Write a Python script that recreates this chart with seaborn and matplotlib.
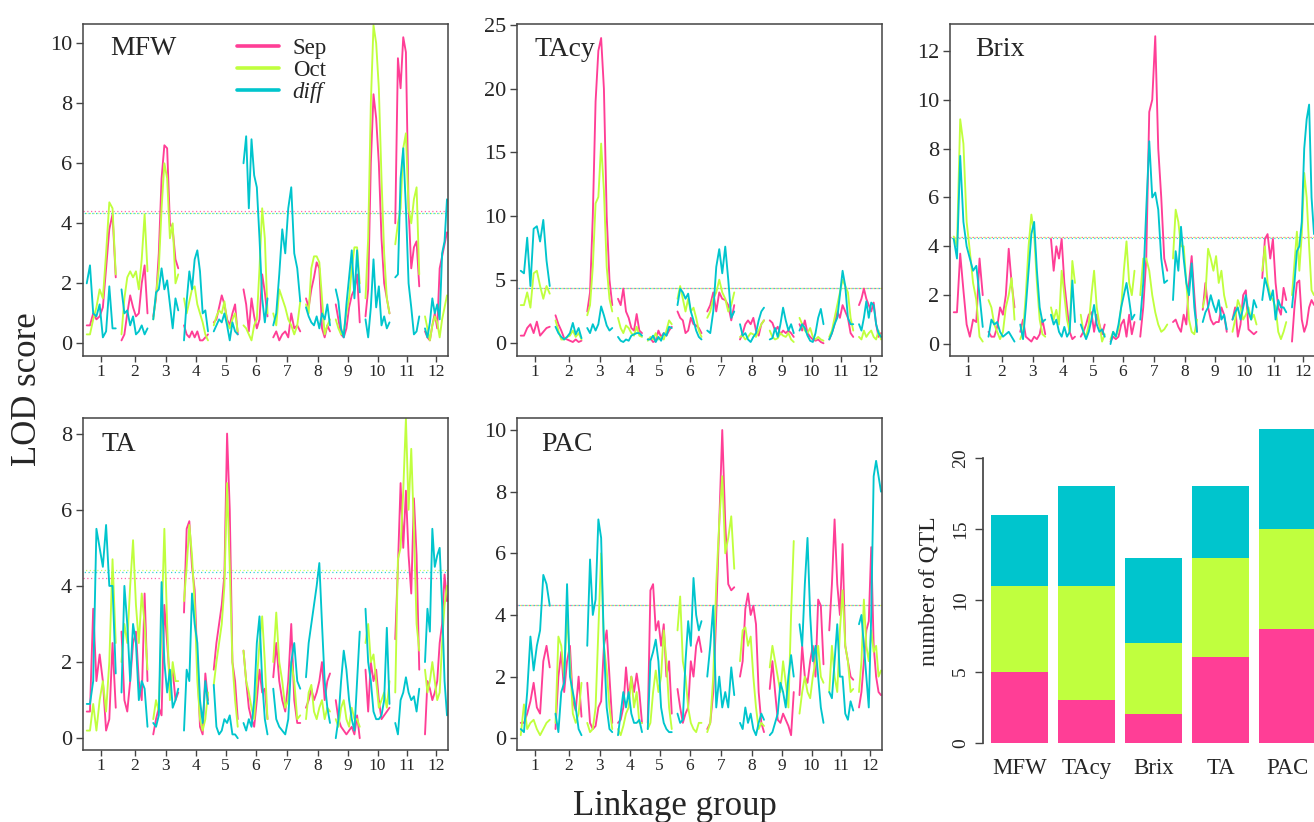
import numpy as np
import pandas as pd
import matplotlib
matplotlib.use("Agg")
import matplotlib.pyplot as plt
from matplotlib.lines import Line2D
import seaborn as sns

# linkage groups (cM) and series
lg_names = [str(i) for i in range(1, 13)]
lg_lengths = [116, 104, 100, 96, 96, 96, 108, 96, 96, 96, 96, 88]
lg_gap = 23
months = ["Sep", "Oct", "diff"]
month_colors = ["#FF3E96", "#C0FF3E", "#00C5CD"]

# LOD profiles, 10 positions per linkage group (LG1 ... LG12)
mfw_sep = [0.6, 0.6, 1.0, 0.8, 0.9, 1.2, 2.5, 3.8, 4.3, 2.2,
           0.1, 0.3, 1.0, 1.6, 1.2, 0.9, 1.0, 2.0, 2.6, 1.0,
           0.9, 1.5, 3.0, 5.5, 6.6, 6.5, 4.0, 3.8, 2.8, 2.5,
           0.6, 0.3, 0.2, 0.4, 0.2, 0.4, 0.1, 0.1, 0.2, 0.3,
           0.7, 0.8, 1.2, 1.6, 1.3, 0.8, 0.6, 1.0, 1.3, 0.3,
           1.8, 1.3, 0.4, 1.5, 0.9, 0.5, 0.8, 2.3, 1.7, 0.9,
           0.2, 0.4, 0.1, 0.3, 0.4, 0.2, 1.0, 0.5, 0.6, 0.4,
           1.5, 1.2, 1.8, 2.2, 2.7, 2.5, 0.5, 0.2, 0.6, 0.4,
           1.3, 0.8, 0.3, 0.2, 0.5, 1.2, 1.6, 1.8, 2.3, 0.7,
           0.9, 1.8, 6.0, 8.3, 7.5, 6.0, 3.5, 2.0, 1.5, 1.0,
           4.0, 9.5, 8.5, 10.2, 9.7, 4.5, 2.5, 3.2, 3.4, 1.9,
           0.4, 0.2, 0.1, 0.6, 1.0, 0.5, 2.5, 2.9, 3.3, 3.7]
mfw_oct = [0.3, 0.3, 0.8, 1.2, 1.8, 1.5, 3.0, 4.7, 4.5, 2.3,
           0.3, 1.5, 2.2, 2.4, 2.2, 2.4, 1.8, 2.8, 4.3, 2.4,
           0.8, 1.6, 2.5, 4.5, 6.0, 5.5, 3.5, 4.0, 2.0, 2.3,
           1.5, 1.0, 1.4, 1.8, 1.9, 1.3, 1.0, 0.7, 0.3, 0.1,
           0.6, 0.9, 1.1, 1.0, 1.4, 0.7, 0.5, 0.8, 1.0, 0.4,
           0.6, 0.5, 0.3, 0.1, 0.6, 0.8, 2.5, 4.5, 3.5, 1.0,
           1.0, 0.6, 1.8, 1.5, 1.2, 0.8, 0.6, 0.3, 0.6, 1.4,
           1.3, 1.0, 2.5, 2.9, 2.9, 2.7, 1.5, 0.3, 0.6, 0.8,
           0.8, 0.5, 0.3, 0.4, 1.0, 1.5, 2.5, 3.2, 3.2, 2.0,
           1.5, 3.5, 8.0, 10.6, 10.0, 8.5, 5.5, 3.0, 1.5, 1.0,
           3.3, 4.0, 4.5, 6.5, 7.0, 4.5, 4.0, 4.8, 5.2, 2.3,
           0.9, 0.5, 0.1, 0.6, 0.9, 0.7, 0.2, 0.8, 1.2, 1.6]
mfw_diff = [2.0, 2.6, 1.0, 0.9, 1.3, 0.2, 0.4, 1.9, 0.5, 0.5,
            1.8, 1.0, 1.1, 0.6, 0.9, 0.3, 0.4, 0.6, 0.3, 0.5,
            0.8, 1.7, 1.8, 2.5, 1.8, 2.1, 1.3, 0.5, 1.5, 1.1,
            0.1, 1.4, 2.4, 1.8, 2.8, 3.1, 2.4, 1.0, 1.1, 0.4,
            0.4, 0.6, 0.8, 0.7, 1.0, 0.6, 0.1, 0.7, 0.4, 0.3,
            6.0, 6.9, 4.5, 6.8, 5.6, 5.2, 3.5, 1.5, 0.7, 1.5,
            0.6, 1.0, 2.3, 3.8, 3.0, 4.5, 5.2, 3.0, 2.5, 1.4,
            1.2, 0.9, 0.7, 0.6, 0.9, 0.5, 1.0, 0.8, 1.3, 0.6,
            1.8, 1.4, 0.5, 0.2, 1.3, 2.2, 3.1, 1.5, 3.1, 1.7,
            0.8, 0.2, 1.2, 2.8, 1.2, 1.9, 0.6, 0.9, 0.5, 0.7,
            2.2, 2.3, 5.5, 6.5, 4.5, 2.0, 1.2, 0.3, 0.4, 0.9,
            0.5, 0.2, 0.7, 1.5, 1.0, 1.3, 0.8, 3.0, 3.4, 4.8]

tacy_sep = [0.6, 0.6, 1.2, 1.5, 0.8, 1.7, 0.6, 0.9, 1.2, 1.3,
            2.2, 1.5, 1.0, 0.4, 0.3, 0.2, 0.1, 0.3, 0.1, 0.2,
            2.5, 4.0, 10.0, 19.0, 23.0, 24.0, 20.0, 10.0, 5.0, 3.0,
            3.5, 3.0, 4.3, 2.5, 2.0, 1.2, 1.0, 2.3, 1.0, 0.8,
            0.3, 0.4, 0.1, 0.2, 1.0, 0.5, 0.8, 0.6, 1.0, 1.3,
            2.5, 2.0, 1.8, 0.8, 1.0, 2.0, 1.5, 1.4, 1.2, 0.8,
            2.5, 3.0, 4.0, 2.5, 4.0, 3.5, 3.4, 3.0, 1.8, 3.0,
            0.3, 0.8, 1.5, 1.8, 1.5, 2.0, 1.0, 0.6, 1.5, 1.8,
            1.8, 1.6, 1.0, 1.3, 0.7, 1.0, 0.8, 1.0, 0.8, 0.5,
            1.5, 1.0, 1.8, 0.8, 0.5, 0.3, 0.2, 0.3, 0.1, 0.0,
            0.3, 0.8, 1.5, 2.5, 2.0, 3.0, 2.5, 2.0, 0.8, 0.5,
            3.0, 3.5, 4.3, 3.5, 3.0, 2.5, 3.2, 1.5, 0.5, 0.8]
tacy_oct = [3.0, 3.0, 4.0, 2.8, 5.5, 5.7, 4.5, 3.5, 4.5, 3.9,
            1.8, 1.0, 0.3, 0.3, 0.5, 0.6, 1.0, 0.5, 0.8, 0.3,
            2.2, 3.0, 6.0, 11.0, 11.5, 15.7, 12.0, 6.0, 3.5, 2.5,
            2.0, 1.2, 0.8, 1.4, 1.2, 0.8, 0.6, 1.3, 0.6, 0.5,
            0.2, 0.5, 0.3, 0.8, 0.3, 0.5, 0.3, 1.0, 1.8, 1.5,
            3.5, 4.5, 3.5, 2.5, 3.5, 2.5, 2.8, 2.0, 1.0, 0.5,
            2.0, 2.5, 3.5, 4.0, 5.0, 4.0, 3.5, 2.5, 3.0, 4.0,
            0.5, 0.6, 0.3, 0.5, 0.8, 0.7, 0.5, 1.0, 1.5, 1.8,
            1.0, 0.5, 0.3, 0.4, 0.8, 0.6, 0.5, 0.8, 0.3, 0.1,
            2.0, 1.5, 1.0, 0.8, 1.2, 0.5, 0.3, 0.5, 0.3, 0.2,
            0.5, 1.0, 2.0, 3.0, 4.0, 5.0, 4.5, 4.0, 2.0, 1.0,
            0.5, 0.3, 1.0, 0.5, 0.8, 1.0, 0.5, 0.3, 1.0, 0.3]
tacy_diff = [5.7, 5.5, 8.3, 4.5, 9.0, 9.2, 8.0, 9.7, 6.5, 4.5,
             1.3, 0.8, 0.5, 0.3, 0.5, 0.8, 1.6, 0.7, 1.2, 0.4,
             1.2, 0.8, 1.5, 1.0, 1.5, 2.9, 2.2, 1.4, 1.0, 1.2,
             0.5, 0.2, 0.1, 0.3, 0.2, 0.6, 0.7, 0.8, 0.8, 0.6,
             0.3, 0.3, 0.6, 0.1, 0.5, 0.2, 0.8, 0.6, 1.3, 1.2,
             3.0, 4.3, 4.0, 3.5, 3.9, 2.5, 1.8, 1.0, 0.5, 0.3,
             1.0, 0.8, 2.5, 6.0, 7.4, 5.5, 7.6, 5.0, 2.0, 2.5,
             1.5, 0.6, 0.8, 0.3, 0.1, 0.5, 0.8, 1.8, 2.5, 2.8,
             0.3, 0.4, 1.2, 0.5, 1.5, 2.8, 1.8, 1.0, 1.5, 0.8,
             1.0, 1.5, 1.2, 0.6, 0.2, 0.1, 0.8, 2.0, 2.7, 1.5,
             0.3, 0.8, 1.5, 2.0, 3.8, 5.7, 4.5, 2.0, 1.5, 1.5,
             1.5, 1.0, 2.0, 3.3, 2.0, 3.2, 3.0, 1.5, 0.8, 0.5]

brix_sep = [1.3, 1.3, 3.7, 2.2, 0.8, 0.3, 1.0, 0.9, 3.5, 2.0,
            0.5, 0.3, 0.3, 0.7, 1.5, 1.2, 2.0, 3.9, 2.5, 1.5,
            0.5, 1.0, 0.3, 0.2, 0.1, 0.3, 0.2, 0.4, 1.0, 0.4,
            4.3, 3.0, 4.0, 3.5, 4.3, 2.5, 1.5, 0.5, 0.2, 0.3,
            0.3, 0.5, 0.8, 1.2, 1.3, 0.5, 1.2, 0.8, 0.4, 0.8,
            0.1, 0.3, 0.2, 0.3, 0.8, 1.0, 0.3, 1.2, 0.4, 0.9,
            0.3, 1.5, 3.5, 9.5, 10.0, 12.6, 8.0, 6.0, 3.5, 3.0,
            0.9, 1.0, 0.7, 0.5, 1.2, 0.8, 2.5, 3.6, 2.0, 0.5,
            1.4, 2.5, 1.5, 1.0, 0.8, 0.9, 0.9, 1.5, 1.2, 0.5,
            1.0, 1.5, 0.3, 0.8, 2.0, 2.2, 0.6, 0.5, 0.4, 0.5,
            2.7, 4.3, 4.5, 3.5, 4.3, 2.5, 1.5, 1.2, 2.3, 1.8,
            0.1, 1.5, 2.5, 2.6, 1.0, 0.5, 0.8, 1.5, 1.8, 1.6]
brix_oct = [4.4, 4.0, 9.2, 8.2, 5.0, 3.8, 2.5, 1.8, 0.3, 0.1,
            1.8, 1.5, 0.8, 0.5, 0.2, 0.5, 1.5, 2.0, 2.7, 1.0,
            0.2, 0.5, 2.0, 4.0, 5.3, 4.5, 2.5, 1.0, 0.4, 0.3,
            1.5, 1.0, 1.4, 0.8, 3.0, 2.0, 1.0, 0.5, 3.4, 2.5,
            1.2, 0.5, 0.3, 0.8, 2.0, 3.0, 1.5, 0.8, 0.1, 0.4,
            0.2, 0.5, 0.3, 0.6, 1.5, 3.0, 4.2, 2.5, 2.0, 3.0,
            2.0, 3.5, 3.5, 3.0, 2.0, 1.3, 0.8, 0.5, 0.6, 0.8,
            3.5, 5.5, 5.0, 4.0, 4.0, 2.5, 1.0, 0.5, 0.4, 1.0,
            1.5, 2.0, 3.9, 3.5, 3.0, 3.6, 2.5, 3.0, 2.0, 1.5,
            0.5, 1.0, 1.8, 1.5, 1.0, 1.2, 1.5, 1.0, 1.2, 0.8,
            3.0, 4.0, 2.5, 2.0, 1.8, 1.5, 0.5, 0.2, 0.5, 0.9,
            2.0, 3.3, 4.6, 3.0, 4.5, 7.0, 6.0, 4.0, 2.2, 2.0]
brix_diff = [4.3, 3.5, 7.7, 5.0, 4.0, 3.5, 3.0, 3.2, 2.0, 0.7,
             0.3, 1.0, 0.8, 0.9, 0.5, 0.3, 0.4, 0.5, 0.3, 0.1,
             0.8, 0.2, 1.5, 3.0, 4.5, 5.0, 3.0, 1.5, 0.9, 1.0,
             1.2, 0.8, 1.0, 0.5, 0.3, 0.7, 0.3, 0.5, 2.6, 0.9,
             0.8, 0.5, 0.2, 0.5, 1.0, 1.6, 0.8, 0.5, 0.6, 0.3,
             0.0, 0.5, 0.3, 0.8, 1.5, 2.0, 2.5, 1.8, 1.0, 1.2,
             1.0, 2.5, 5.5, 8.3, 6.0, 6.2, 5.5, 3.5, 2.5, 2.6,
             1.8, 3.8, 3.0, 4.8, 3.5, 2.5, 2.0, 3.3, 1.5, 0.5,
             0.9, 1.3, 1.5, 2.0, 1.6, 1.3, 1.8, 1.0, 1.2, 0.6,
             1.0, 1.3, 1.5, 1.0, 1.5, 2.0, 1.3, 1.0, 1.8, 1.5,
             1.8, 2.7, 2.3, 1.8, 2.2, 1.0, 1.8, 1.5, 1.5, 1.3,
             1.5, 2.5, 3.8, 4.0, 5.0, 8.0, 9.2, 9.8, 6.0, 4.5]

ta_sep = [0.7, 0.7, 3.4, 1.5, 2.2, 1.5, 0.2, 0.5, 2.5, 0.8,
          2.8, 1.0, 0.7, 1.5, 2.5, 2.8, 1.5, 1.0, 3.8, 1.5,
          0.1, 0.5, 0.8, 0.6, 3.5, 2.5, 1.5, 1.8, 1.0, 1.2,
          3.3, 5.5, 5.7, 4.5, 3.9, 2.0, 0.3, 0.1, 1.7, 1.0,
          1.8, 2.5, 3.0, 3.5, 4.3, 8.0, 6.0, 2.0, 1.5, 0.5,
          2.3, 1.5, 0.8, 0.5, 0.3, 1.0, 1.8, 1.2, 1.3, 0.5,
          1.6, 2.5, 1.5, 1.0, 0.7, 1.5, 3.0, 1.0, 0.4, 0.4,
          0.8, 1.0, 1.3, 1.0, 1.2, 1.5, 2.0, 1.0, 1.5, 1.7,
          1.0, 0.5, 0.3, 0.2, 0.1, 0.2, 0.3, 0.1, 0.6, 0.0,
          1.8, 0.7, 2.0, 1.5, 1.8, 1.0, 0.5, 0.6, 0.7, 0.8,
          2.6, 4.5, 6.7, 5.0, 6.5, 4.8, 3.8, 6.3, 4.8, 1.8,
          0.1, 1.5, 1.3, 1.0, 1.2, 1.5, 2.5, 3.0, 4.3, 3.6]
ta_oct = [0.2, 0.2, 0.9, 0.2, 1.0, 1.5, 0.7, 2.0, 4.7, 2.5,
          2.0, 3.0, 2.5, 4.0, 5.2, 3.5, 2.5, 3.8, 3.0, 1.8,
          0.5, 1.0, 0.7, 3.0, 5.5, 3.0, 1.0, 2.0, 1.5, 1.5,
          3.6, 4.5, 5.6, 4.8, 3.5, 1.5, 0.5, 0.2, 0.5, 1.2,
          1.4, 2.0, 2.5, 3.0, 4.0, 6.7, 4.5, 2.0, 1.0, 0.3,
          2.3, 1.5, 1.2, 0.8, 0.5, 1.5, 2.5, 3.2, 2.0, 0.5,
          2.0, 3.3, 2.0, 1.5, 0.8, 1.0, 2.0, 1.5, 0.5, 0.6,
          0.5, 1.2, 1.4, 0.7, 0.5, 0.8, 1.0, 0.5, 0.8, 0.7,
          0.5, 0.3, 0.8, 1.0, 0.5, 0.3, 0.8, 0.5, 0.5, 0.3,
          2.5, 3.0, 2.0, 2.2, 1.5, 0.8, 1.0, 1.2, 0.8, 1.5,
          1.2, 4.7, 5.0, 6.5, 8.4, 6.0, 7.6, 5.5, 3.0, 2.3,
          1.8, 1.2, 1.5, 2.0, 1.5, 1.0, 1.2, 2.5, 3.5, 4.0]
ta_diff = [0.9, 0.9, 1.5, 5.5, 5.0, 4.5, 5.6, 4.0, 4.0, 1.7,
           1.2, 4.0, 3.0, 1.5, 3.0, 2.5, 1.0, 1.5, 1.3, 0.3,
           0.4, 0.3, 0.6, 4.1, 2.0, 1.2, 1.8, 0.8, 1.0, 1.3,
           0.2, 1.8, 1.5, 3.8, 3.0, 2.5, 1.0, 0.4, 1.5, 0.9,
           1.4, 0.3, 0.1, 0.2, 0.5, 0.4, 0.6, 0.1, 0.1, 0.0,
           0.4, 0.2, 0.5, 0.3, 1.0, 2.5, 3.2, 1.5, 0.5, 0.1,
           1.3, 0.5, 0.3, 0.2, 0.1, 0.5, 2.0, 2.5, 1.5, 1.3,
           1.6, 2.5, 3.0, 3.5, 4.0, 4.6, 3.0, 1.5, 0.8, 0.4,
           0.0, 0.5, 1.5, 2.3, 1.8, 1.0, 0.5, 0.2, 1.5, 2.8,
           3.4, 2.0, 1.5, 0.7, 0.5, 0.5, 0.6, 1.0, 2.9, 0.9,
           0.4, 0.1, 1.0, 1.2, 1.6, 1.2, 1.0, 1.1, 0.7, 1.3,
           2.0, 3.4, 2.8, 5.5, 4.5, 4.8, 5.0, 3.5, 1.5, 0.6]

pac_sep = [0.5, 0.5, 0.8, 1.2, 1.8, 1.0, 0.8, 2.5, 3.0, 2.3,
           0.3, 2.0, 2.8, 1.5, 2.5, 3.0, 1.2, 0.9, 2.0, 0.7,
           1.8, 0.5, 0.3, 0.4, 1.0, 1.2, 3.0, 3.5, 2.0, 0.5,
           0.5, 0.6, 1.0, 2.3, 1.3, 2.0, 1.5, 2.1, 1.5, 0.5,
           0.5, 4.8, 5.0, 3.5, 3.8, 3.0, 3.7, 2.0, 2.5, 0.8,
           1.6, 1.0, 0.5, 0.8, 1.0, 2.5, 2.0, 3.0, 3.3, 2.8,
           0.3, 0.5, 1.5, 4.0, 7.0, 10.0, 7.0, 5.0, 4.8, 4.9,
           2.0, 2.5, 4.2, 4.7, 4.0, 4.3, 3.7, 1.5, 0.5, 0.2,
           1.6, 2.5, 1.5, 0.6, 0.5, 0.8, 0.6, 0.4, 0.1, 1.5,
           1.4, 3.0, 2.0, 1.8, 2.5, 3.0, 2.0, 4.5, 4.3, 2.4,
           3.5, 5.0, 7.1, 5.0, 4.0, 6.3, 3.0, 2.5, 2.0, 1.9,
           1.0, 1.5, 2.5, 3.5, 3.8, 6.2, 3.0, 2.0, 1.5, 1.4]
pac_oct = [0.1, 1.1, 0.3, 0.5, 0.6, 0.3, 0.1, 0.3, 0.5, 0.6,
           0.5, 3.3, 3.0, 2.0, 4.0, 2.5, 0.8, 0.5, 0.8, 1.8,
           0.5, 0.2, 0.3, 1.0, 3.5, 6.0, 3.0, 2.2, 1.0, 0.3,
           0.3, 0.1, 0.4, 0.8, 1.0, 2.0, 1.0, 1.5, 0.5, 0.5,
           0.3, 0.5, 1.5, 2.2, 1.5, 2.0, 3.5, 2.5, 1.0, 0.3,
           3.5, 4.6, 2.5, 2.0, 1.0, 0.5, 0.3, 0.2, 0.5, 0.5,
           0.2, 0.5, 2.0, 5.0, 7.0, 8.5, 6.0, 6.5, 7.2, 5.5,
           2.5, 3.5, 3.6, 3.0, 3.3, 2.0, 1.0, 0.3, 0.5, 0.4,
           2.3, 3.0, 2.5, 2.0, 1.5, 2.5, 1.8, 1.0, 4.0, 6.4,
           0.8, 1.5, 2.0, 1.5, 1.3, 2.0, 2.5, 3.0, 2.0, 1.8,
           1.5, 3.0, 2.0, 1.5, 3.5, 4.8, 3.0, 2.5, 1.5, 1.6,
           1.5, 2.5, 4.5, 3.0, 2.5, 3.5, 2.8, 3.0, 2.0, 2.2]
pac_diff = [0.3, 0.2, 1.5, 3.3, 2.2, 3.0, 3.5, 5.3, 5.0, 4.3,
            0.8, 0.2, 1.5, 1.8, 5.0, 2.0, 1.5, 1.0, 0.3, 0.1,
            3.0, 5.8, 4.0, 4.5, 7.1, 6.5, 3.0, 1.0, 0.3, 0.2,
            0.1, 0.8, 1.5, 1.0, 1.5, 0.8, 0.5, 0.5, 0.6, 0.2,
            0.3, 2.5, 2.8, 3.2, 2.5, 1.0, 0.5, 0.3, 0.2, 0.2,
            0.8, 0.5, 0.6, 2.5, 3.8, 3.0, 5.2, 4.0, 3.5, 3.8,
            2.0, 3.0, 4.3, 1.0, 2.0, 1.0, 1.5, 1.0, 2.3, 1.4,
            0.5, 0.3, 1.0, 0.5, 0.8, 0.3, 0.1, 0.5, 0.8, 0.6,
            0.1, 0.2, 0.5, 0.8, 1.8, 1.5, 1.0, 2.0, 2.7, 2.0,
            3.7, 3.0, 5.0, 6.5, 4.0, 2.5, 3.0, 2.0, 1.0, 0.5,
            1.5, 1.3, 2.5, 3.7, 2.0, 2.0, 0.8, 0.6, 1.2, 0.9,
            3.7, 4.0, 3.0, 2.0, 1.0, 4.0, 8.5, 9.0, 8.5, 8.0]

# LOD thresholds (Sep, Oct, diff)
mfw_thr = [4.42, 4.33, 4.33]
tacy_thr = [4.32, 4.32, 4.32]
brix_thr = [4.39, 4.39, 4.35]
ta_thr = [4.22, 4.41, 4.36]
pac_thr = [4.32, 4.32, 4.32]

# number of QTL per trait
traits = ["MFW", "TAcy", "Brix", "TA", "PAC"]
qtl_sep = [5, 3, 2, 6, 8]
qtl_oct = [6, 8, 5, 7, 7]
qtl_diff = [5, 7, 6, 5, 7]

sns.set_theme(style="ticks")
plt.rcParams["font.family"] = ["Liberation Serif", "DejaVu Serif"]

lg_starts = np.cumsum([0] + [l + lg_gap for l in lg_lengths[:-1]])
lg_centers = [s + l / 2 for s, l in zip(lg_starts, lg_lengths)]


def lod_frame(sep, oct_, diff):
    rows = []
    for i, (s, l) in enumerate(zip(lg_starts, lg_lengths)):
        pos = s + np.linspace(0, l, 10)
        for m, vals in zip(months, [sep, oct_, diff]):
            for p, v in zip(pos, vals[i * 10:(i + 1) * 10]):
                rows.append((lg_names[i], m, p, v))
    return pd.DataFrame(rows, columns=["lg", "month", "pos", "lod"])


fig = plt.figure(figsize=(13.14, 8.22), dpi=100)
W, H = 1314.0, 822.0


def px_axes(left, top, right, bottom):
    return fig.add_axes([left / W, 1 - bottom / H, (right - left) / W, (bottom - top) / H])


def lod_panel(box, title, sep, oct_, diff, thr, ylim, yticks, title_xy):
    ax = px_axes(*box)
    # dotted significance thresholds, dots shifted so overlapping ones interleave
    for k, (t, c) in enumerate(zip(thr, month_colors)):
        ax.axhline(t, color=c, lw=0.9, alpha=0.8, ls=(k * 1.0, (1.0, 2.0)), zorder=1)
    df = lod_frame(sep, oct_, diff)
    sns.lineplot(data=df, x="pos", y="lod", hue="month", units="lg", estimator=None,
                 hue_order=months, palette=dict(zip(months, month_colors)),
                 linewidth=1.35, legend=False, ax=ax)
    ax.set_xlim(-15, 1445)
    ax.set_ylim(*ylim)
    ax.set_yticks(yticks)
    ax.set_xticks(lg_centers, lg_names)
    ax.set_xlabel("")
    ax.set_ylabel("")
    for s in ax.spines.values():
        s.set_visible(True)
        s.set_color("#444444")
        s.set_linewidth(1.1)
    ax.tick_params(axis="y", labelsize=16, length=5, width=1, color="#444444", pad=3)
    ax.tick_params(axis="x", labelsize=12.5, length=4, width=1, color="#444444", pad=2)
    ax.text(title_xy[0], title_xy[1], title, transform=ax.transAxes, fontsize=20,
            va="baseline", ha="left")
    return ax


ax1 = lod_panel((83, 24, 448, 356), "MFW", mfw_sep, mfw_oct, mfw_diff, mfw_thr,
                (-0.42, 10.64), [0, 2, 4, 6, 8, 10], (0.074, 0.907))
lod_panel((517, 24, 882, 356), "TAcy", tacy_sep, tacy_oct, tacy_diff, tacy_thr,
          (-1.0, 25.1), [0, 5, 10, 15, 20, 25], (0.049, 0.905))
lod_panel((950, 24, 1315, 356), "Brix", brix_sep, brix_oct, brix_diff, brix_thr,
          (-0.49, 13.1), [0, 2, 4, 6, 8, 10, 12], (0.07, 0.904))
lod_panel((83, 418, 448, 750), "TA", ta_sep, ta_oct, ta_diff, ta_thr,
          (-0.31, 8.41), [0, 2, 4, 6, 8], (0.051, 0.90))
lod_panel((517, 418, 882, 750), "PAC", pac_sep, pac_oct, pac_diff, pac_thr,
          (-0.38, 10.39), [0, 2, 4, 6, 8, 10], (0.065, 0.90))

handles = [Line2D([], [], color=c, lw=2.6) for c in month_colors]
leg = ax1.legend(handles, months, loc="upper left", bbox_to_anchor=(0.422, 0.958),
                 frameon=False, fontsize=16.5, handlelength=1.83, handletextpad=0.6,
                 labelspacing=0.05, borderpad=0, borderaxespad=0)
leg.get_texts()[2].set_fontstyle("italic")

# stacked QTL counts
bar_df = pd.DataFrame({"trait": traits, "sep": qtl_sep, "oct": qtl_oct, "diff": qtl_diff})
bar_df["mid"] = bar_df["sep"] + bar_df["oct"]
bar_df["top"] = bar_df["mid"] + bar_df["diff"]
axb = px_axes(983, 428.5, 1314, 743)
for col, c in [("top", month_colors[2]), ("mid", month_colors[1]), ("sep", month_colors[0])]:
    sns.barplot(data=bar_df, x="trait", y=col, color=c, saturation=1, width=0.85,
                linewidth=0, ax=axb)
axb.set_xlim(-0.545, 4.396)
axb.set_ylim(0, 22.05)
axb.set_yticks([0, 5, 10, 15, 20])
axb.set_xlabel("")
axb.set_ylabel("")
for side in ["top", "right", "bottom"]:
    axb.spines[side].set_visible(False)
axb.spines["left"].set_bounds(0, 20)
axb.spines["left"].set_color("#444444")
axb.tick_params(axis="y", labelsize=14, length=6, width=1, color="#444444", pad=4)
for lab in axb.get_yticklabels():
    lab.set_rotation(90)
    lab.set_va("center")
axb.tick_params(axis="x", labelsize=16.5, length=0, pad=11)

fig.text(28 / W, 1 - 389 / H, "LOD score", rotation=90, fontsize=25, ha="center", va="center")
fig.text(675 / W, 1 - 815 / H, "Linkage group", fontsize=25, ha="center", va="baseline")
fig.text(929 / W, 1 - 591 / H, "number of QTL", rotation=90, fontsize=17, ha="center", va="center")

fig.savefig("out.png", dpi=100)
